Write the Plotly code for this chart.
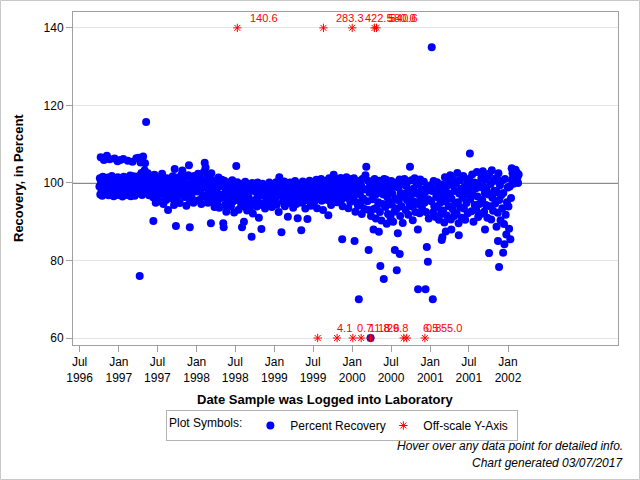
import plotly.graph_objects as go

# ---------------- data ----------------
# Percent recovery, one list of "MM-DD" log dates and one list of values per year
days_1996 = ["10-02","10-04","10-06","10-09","10-12","10-15","10-18","10-21","10-24","10-27","10-30","10-08","10-23",
             "11-02","11-05","11-08","11-11","11-14","11-17","11-20","11-23","11-26","11-29","11-06","11-19",
             "12-02","12-05","12-08","12-11","12-14","12-17","12-20","12-23","12-27","12-30","12-12","12-26"]
rec_1996 = [99.1,101.2,97.0,100.3,98.2,96.7,101.6,99.6,97.6,100.8,98.5,106.6,105.9,
            97.3,100.1,98.9,101.4,96.8,99.4,100.9,97.9,99.9,101.8,107.0,106.1,
            98.0,100.6,96.6,99.2,101.1,97.4,100.0,98.6,101.5,96.9,106.3,105.6]

days_1997 = ["01-03","01-06","01-09","01-12","01-15","01-18","01-21","01-24","01-27","01-30","01-08","01-22",
             "02-02","02-05","02-08","02-11","02-14","02-17","02-20","02-23","02-26","02-12",
             "03-02","03-05","03-08","03-11","03-14","03-17","03-20","03-23","03-26","03-29","03-06","03-24",
             "04-02","04-05","04-08","04-11","04-14","04-17","04-20","04-23","04-26","04-29","04-04","04-13","04-25","04-09",
             "05-02","05-05","05-08","05-11","05-14","05-17","05-20","05-23","05-26","05-29","05-09","05-04",
             "06-02","06-05","06-08","06-11","06-14","06-17","06-20","06-23","06-26","06-29","06-12",
             "07-02","07-05","07-08","07-11","07-14","07-17","07-20","07-23","07-26","07-29",
             "08-02","08-05","08-08","08-11","08-14","08-17","08-20","08-23","08-26","08-29",
             "09-02","09-05","09-08","09-11","09-14","09-17","09-20","09-23","09-26","09-28","09-30",
             "10-02","10-05","10-08","10-11","10-14","10-17","10-20","10-23","10-26","10-29",
             "11-02","11-05","11-08","11-11","11-14","11-17","11-20","11-23","11-26","11-29","11-30",
             "12-02","12-05","12-08","12-11","12-14","12-17","12-20","12-23","12-26","12-29"]
rec_1997 = [99.7,97.2,101.0,98.4,100.4,96.5,99.0,101.6,97.8,100.2,105.9,106.2,
            98.6,101.3,96.9,99.9,97.6,100.7,98.1,101.9,96.6,105.7,
            100.5,97.1,99.3,101.7,98.0,96.7,100.1,98.8,101.1,97.5,105.5,106.4,
            99.6,101.8,97.4,100.6,98.3,102.6,96.9,99.8,101.2,98.7,106.5,105.3,106.8,76.0,
            103.3,100.3,98.6,101.9,97.4,102.5,99.2,96.8,100.9,98.0,115.7,105.1,
            101.3,98.1,100.1,96.3,99.2,102.1,97.5,94.9,100.6,98.8,90.2,
            99.5,96.8,101.4,98.4,95.3,100.3,97.7,102.4,99.0,94.6,
            97.1,100.6,98.2,95.6,101.2,99.3,93.0,97.9,100.1,96.2,
            100.9,98.6,96.0,101.7,99.5,94.3,103.6,97.3,88.9,100.2,95.6,
            98.9,101.4,96.9,99.8,94.8,100.6,97.6,102.2,103.2,98.3,
            100.1,96.4,101.6,98.7,94.1,99.6,97.2,102.0,104.6,95.7,88.6,
            99.0,101.2,96.7,100.2,97.9,94.9,101.8,98.6,95.4,100.7]

days_1998 = ["01-02","01-05","01-08","01-11","01-14","01-17","01-20","01-23","01-26","01-29",
             "02-02","02-05","02-08","02-10","02-12","02-14","02-17","02-20","02-23","02-26",
             "03-02","03-05","03-08","03-09","03-11","03-14","03-17","03-20","03-23","03-26","03-29",
             "04-02","04-05","04-08","04-11","04-14","04-17","04-20","04-23","04-26","04-29",
             "05-02","05-05","05-06","05-08","05-11","05-14","05-17","05-20","05-23","05-26","05-29",
             "06-02","06-05","06-08","06-11","06-14","06-17","06-20","06-23","06-26","06-29",
             "07-02","07-06","07-08","07-11","07-14","07-17","07-20","07-23","07-26","07-29",
             "08-02","08-03","08-06","08-09","08-11","08-14","08-17","08-20","08-23","08-26","08-29",
             "09-02","09-05","09-08","09-11","09-14","09-16","09-19","09-22","09-25","09-28",
             "10-02","10-05","10-08","10-11","10-14","10-17","10-20","10-23","10-26","10-29",
             "11-01","11-03","11-06","11-09","11-12","11-15","11-18","11-21","11-24","11-27",
             "12-02","12-05","12-08","12-11","12-14","12-17","12-20","12-23","12-26","12-29"]
rec_1998 = [100.6,97.8,102.4,99.3,95.6,101.3,98.1,94.6,100.0,96.8,
            98.9,102.9,105.2,100.5,104.0,96.3,99.6,101.8,94.9,98.0,
            101.1,97.2,99.9,89.6,102.5,95.3,98.5,100.7,96.5,93.8,99.1,
            97.8,100.3,95.0,98.9,101.4,93.6,97.0,99.7,96.1,100.8,
            99.2,96.3,89.6,88.6,100.6,94.3,97.8,92.6,99.9,95.7,98.4,
            100.1,96.8,98.9,93.9,97.5,100.7,95.2,99.0,92.4,97.1,
            98.3,104.4,95.6,100.2,97.0,93.1,99.4,96.0,98.7,94.3,
            88.6,99.8,96.7,94.0,90.0,98.2,100.3,95.3,97.5,92.9,99.0,
            96.3,99.6,93.5,97.9,95.1,86.1,100.0,92.1,98.4,94.8,
            99.2,95.7,97.6,93.9,100.1,96.4,91.0,98.7,94.7,97.0,
            88.1,97.2,99.8,94.2,96.7,98.9,93.4,97.9,95.4,99.3,
            95.8,98.4,100.1,94.6,97.1,99.0,93.8,96.5,98.0,95.0]

days_1999 = ["01-03","01-06","01-09","01-12","01-15","01-18","01-21","01-24","01-27","01-30",
             "02-03","02-04","02-07","02-10","02-13","02-16","02-19","02-22","02-25","02-28",
             "03-03","03-05","03-06","03-09","03-12","03-15","03-18","03-21","03-24","03-27","03-30",
             "04-02","04-05","04-08","04-11","04-14","04-17","04-20","04-23","04-26","04-29",
             "05-02","05-05","05-07","05-08","05-11","05-14","05-17","05-20","05-23","05-26","05-29",
             "06-02","06-05","06-06","06-09","06-12","06-15","06-18","06-21","06-24","06-27","06-30",
             "07-02","07-05","07-08","07-11","07-14","07-17","07-20","07-23","07-26","07-29",
             "08-02","08-05","08-08","08-11","08-14","08-17","08-20","08-23","08-26","08-29",
             "09-02","09-05","09-08","09-11","09-12","09-15","09-18","09-21","09-24","09-27","09-30",
             "10-03","10-06","10-09","10-12","10-15","10-18","10-21","10-24","10-27","10-30",
             "11-02","11-05","11-08","11-11","11-14","11-15","11-17","11-20","11-23","11-26","11-29",
             "12-02","12-05","12-08","12-11","12-14","12-17","12-20","12-23","12-26","12-29"]
rec_1999 = [98.6,96.0,100.2,94.4,97.5,99.4,92.5,101.5,96.9,98.9,
            87.3,97.0,99.8,95.3,98.3,100.4,94.0,97.7,99.1,96.2,
            99.5,91.3,96.6,98.8,94.8,100.1,97.3,95.6,99.2,97.9,93.6,
            98.4,95.9,100.5,97.1,94.6,99.3,90.9,96.5,98.9,95.2,
            99.7,96.8,87.8,98.2,94.9,100.4,97.5,95.7,99.0,93.4,98.1,
            97.2,90.7,99.9,95.5,98.5,100.6,96.2,94.1,98.0,99.4,96.9,
            100.2,97.6,95.2,99.1,96.4,100.8,93.5,98.4,97.0,99.6,
            96.8,99.5,101.0,95.4,98.0,93.0,100.3,97.3,99.1,95.9,
            100.6,97.8,95.6,91.7,99.3,101.2,96.5,98.6,94.3,100.0,97.3,
            98.5,102.1,96.0,100.4,97.6,99.4,95.0,101.0,98.0,96.6,
            100.0,97.1,101.3,95.7,98.9,85.5,94.0,99.7,96.5,100.8,97.8,
            98.5,101.5,96.2,99.6,93.5,100.5,97.4,95.1,99.0,101.0]

days_2000 = ["01-03","01-06","01-09","01-12","01-13","01-16","01-19","01-22","01-25","01-28",
             "02-01","02-03","02-06","02-09","02-12","02-15","02-18","02-21","02-24","02-27",
             "03-03","03-07","03-09","03-12","03-15","03-18","03-19","03-22","03-25","03-27","03-29",
             "04-02","04-05","04-08","04-10","04-12","04-15","04-18","04-21","04-24","04-27","04-30",
             "05-02","05-05","05-07","05-10","05-12","05-14","05-17","05-20","05-23","05-26","05-28","05-30",
             "06-02","06-05","06-08","06-11","06-14","06-17","06-20","06-23","06-26","06-29",
             "07-02","07-05","07-08","07-11","07-14","07-17","07-19","07-22","07-25","07-28","07-29",
             "08-02","08-04","08-07","08-10","08-11","08-13","08-16","08-19","08-22","08-25","08-28",
             "09-02","09-05","09-08","09-11","09-14","09-17","09-20","09-23","09-26","09-28",
             "10-02","10-05","10-08","10-11","10-14","10-17","10-20","10-23","10-26","10-29",
             "11-02","11-04","11-05","11-06","11-09","11-12","11-15","11-18","11-21","11-24","11-27",
             "12-02","12-05","12-08","12-10","12-12","12-16","12-18","12-21","12-22","12-25","12-28"]
rec_2000 = [99.4,96.3,101.2,85.0,97.9,92.6,100.1,95.0,98.6,94.1,
            70.0,100.5,97.0,94.5,99.2,92.0,101.0,96.0,98.3,93.3,
            102.0,104.2,98.4,95.3,100.6,82.7,93.0,97.5,99.6,60.0,91.5,
            100.0,95.8,98.0,88.0,93.3,101.0,96.9,90.8,93.6,99.1,97.4,
            95.0,87.4,100.6,92.5,78.6,97.6,90.3,99.2,94.6,97.0,75.2,101.0,
            98.5,93.8,100.8,89.5,96.3,92.0,99.4,95.2,97.8,91.0,
            100.5,94.4,97.2,90.0,99.0,92.6,82.7,96.0,100.1,77.5,93.4,
            87.0,98.8,95.5,100.9,81.7,91.5,97.4,94.0,99.6,89.7,96.6,
            101.0,97.3,93.0,99.2,95.6,100.4,91.8,97.9,94.5,104.2,
            96.8,100.7,93.9,90.4,98.5,95.2,101.2,92.5,97.4,99.6,
            94.6,88.0,72.6,99.8,97.0,92.2,100.9,95.6,98.3,93.4,96.8,
            100.3,94.9,97.6,72.6,92.5,83.5,99.2,79.7,95.8,90.8,98.2]

days_2001 = ["01-03","01-06","01-08","01-10","01-13","01-14","01-17","01-20","01-23","01-26","01-29",
             "02-02","02-05","02-08","02-11","02-14","02-17","02-20","02-23","02-24","02-26","02-27",
             "03-02","03-05","03-08","03-11","03-14","03-15","03-17","03-20","03-23","03-26","03-29",
             "04-02","04-05","04-08","04-10","04-11","04-14","04-17","04-20","04-23","04-26","04-29",
             "05-02","05-05","05-08","05-11","05-14","05-15","05-17","05-20","05-23","05-26","05-29",
             "06-02","06-05","06-08","06-11","06-14","06-17","06-20","06-23","06-26","06-29",
             "07-02","07-06","07-08","07-11","07-14","07-17","07-20","07-23","07-26","07-29",
             "08-02","08-05","08-08","08-11","08-14","08-17","08-20","08-23","08-26","08-29",
             "09-02","09-05","09-08","09-11","09-14","09-15","09-17","09-20","09-23","09-26","09-29",
             "10-02","10-04","10-05","10-08","10-11","10-14","10-17","10-20","10-23","10-26","10-29",
             "11-02","11-05","11-08","11-11","11-14","11-15","11-17","11-20","11-21","11-24","11-27","11-30",
             "12-02","12-05","12-09","12-10","12-13","12-15","12-18","12-21","12-24","12-27","12-30"]
rec_2001 = [99.4,95.3,135.0,97.9,70.0,92.4,100.5,94.0,98.3,91.2,96.4,
            100.2,93.7,97.4,90.5,98.8,94.9,92.0,99.6,85.3,96.1,86.0,
            92.9,98.0,89.8,101.5,95.2,87.5,99.0,91.6,96.8,100.4,94.0,
            97.3,102.0,90.6,88.0,95.9,99.5,93.2,100.8,91.5,97.9,94.7,
            99.8,92.1,102.6,95.0,89.6,86.5,97.3,100.7,93.7,98.5,91.0,
            96.2,101.8,93.4,99.0,90.5,97.0,94.8,100.3,92.2,98.2,
            101.0,107.6,95.8,99.3,92.7,102.2,96.9,90.0,100.1,94.3,
            98.6,93.0,102.8,96.5,91.2,100.0,94.6,98.9,92.0,101.3,
            95.7,103.0,99.0,92.6,97.4,88.0,100.9,94.3,98.1,91.0,101.7,
            97.0,81.9,102.4,94.0,99.7,90.6,103.3,96.2,92.8,100.5,98.0,
            94.7,101.2,88.7,97.6,92.3,85.0,102.5,78.3,95.6,99.4,90.4,96.8,
            100.6,93.5,82.0,97.4,89.4,84.2,101.0,91.8,86.7,95.0,98.8]

days_2002 = ["01-03","01-06","01-09","01-12","01-15","01-18","01-20","01-22","01-24","01-26","01-28","01-30",
             "02-02","02-05","02-08","02-11","02-14","02-17","02-20"]
rec_2002 = [93.9,88.2,99.1,85.5,96.1,103.8,100.6,102.5,101.2,99.8,103.1,100.2,
            101.9,103.4,100.5,102.7,101.4,100.0,102.2]

# off-scale results (true values shown as labels)
offscale_dates = ["1998-07-11", "1999-08-19", "2000-01-01", "2000-04-15", "2000-04-24",
                  "1999-07-23", "1999-10-22", "2000-01-04", "2000-02-12", "2000-03-27",
                  "2000-08-30", "2000-09-13", "2000-12-07"]
offscale_values = [140.6, 283.3, 422.5, 580.0, 540.6,
                   4.1, 0.7, 11.8, 18.6, 29.8,
                   6.5, 0.8, 55.0]

y_min, y_max = 60, 140
y_ticks = [60, 80, 100, 120, 140]
x_ticks = ["1996-07-01", "1997-01-01", "1997-07-01", "1998-01-01", "1998-07-01", "1999-01-01",
           "1999-07-01", "2000-01-01", "2000-07-01", "2001-01-01", "2001-07-01", "2002-01-01"]
target = 100

# ---------------- build ----------------
years = [(1996, days_1996, rec_1996), (1997, days_1997, rec_1997), (1998, days_1998, rec_1998),
         (1999, days_1999, rec_1999), (2000, days_2000, rec_2000), (2001, days_2001, rec_2001),
         (2002, days_2002, rec_2002)]
x_all, y_all = [], []
for yr, d, v in years:
    assert len(d) == len(v), (yr, len(d), len(v))
    x_all += [f"{yr}-{s}" for s in d]
    y_all += v

off_y = [min(max(v, y_min), y_max) for v in offscale_values]

FONT = "Liberation Sans, Arial, sans-serif"
fig = go.Figure()
fig.add_trace(go.Scatter(
    x=x_all, y=y_all, mode="markers", name="Percent Recovery",
    marker=dict(symbol="circle", size=8, color="#0000FF", line=dict(width=0)),
    hovertemplate="%{x|%d%b%Y}<br>Recovery: %{y:.1f}%<extra></extra>"))
fig.add_trace(go.Scatter(
    x=offscale_dates, y=off_y, mode="markers", name="Off-scale Y-Axis",
    marker=dict(symbol="asterisk-open", size=7, color="#FF0000",
                line=dict(color="#FF0000", width=1)),
    customdata=offscale_values,
    hovertemplate="%{x|%d%b%Y}<br>Recovery: %{customdata:.1f}%<extra></extra>"))

for d, v, yv in zip(offscale_dates, offscale_values, off_y):
    fig.add_annotation(x=d, y=yv, text=f"{v:.1f}", showarrow=False,
                       xshift=27, yshift=10, font=dict(family=FONT, size=11, color="#FF0000"))

# plot-area geometry (pixels)
L, R, T, B = 73, 22, 12, 135
W, H = 640, 480
pw, ph = W - L - R, H - T - B
def px(xp):
    return (xp - L) / pw
def py(yp):
    return (H - B - yp) / ph

fig.add_shape(type="line", xref="paper", x0=0, x1=1, yref="y", y0=target, y1=target,
              line=dict(color="black", width=1), layer="below")
fig.add_shape(type="rect", xref="paper", yref="paper",
              x0=px(0.5), x1=px(W - 0.5), y0=py(H - 0.5), y1=py(0.5),
              line=dict(color="#c8c8c8", width=1), fillcolor="rgba(0,0,0,0)", layer="below")

fig.add_annotation(text="<b>Recovery, in Percent</b>", xref="paper", yref="paper",
                   x=px(18), y=py(178), textangle=-90, showarrow=False,
                   xanchor="center", yanchor="middle", font=dict(family=FONT, size=13))
fig.add_annotation(text="<b>Date Sample was Logged into Laboratory</b>", xref="paper", yref="paper",
                   x=px(325), y=py(399), showarrow=False, xanchor="center", yanchor="middle",
                   font=dict(family=FONT, size=13))
fig.add_annotation(text="<i>Hover over any data point for detailed info.</i>", xref="paper", yref="paper",
                   x=px(625), y=py(446), showarrow=False, xanchor="right", yanchor="middle",
                   font=dict(family=FONT, size=12))
fig.add_annotation(text="<i>Chart generated 03/07/2017</i>", xref="paper", yref="paper",
                   x=px(625), y=py(463), showarrow=False, xanchor="right", yanchor="middle",
                   font=dict(family=FONT, size=12))

fig.update_layout(
    width=W, height=H, margin=dict(l=L, r=R, t=T, b=B, pad=0, autoexpand=False),
    plot_bgcolor="white", paper_bgcolor="white",
    font=dict(family=FONT, size=12, color="black"),
    showlegend=True,
    legend=dict(orientation="h", x=px(342), xanchor="center", y=py(410), yanchor="top",
                bordercolor="#b4b4b4", borderwidth=1, bgcolor="white",
                title=dict(text="Plot Symbols:", side="left", font=dict(family=FONT, size=12)),
                font=dict(family=FONT, size=12), itemsizing="trace",
                entrywidth=88, entrywidthmode="pixels"),
    xaxis=dict(type="date", range=["1996-05-31", "2003-06-01"], tickvals=x_ticks,
               tickformat="%b<br>%Y", ticks="outside", ticklen=6, tickcolor="#a0a0a0",
               showline=True, linecolor="#a0a0a0", mirror=True, showgrid=False, zeroline=False,
               automargin=False, tickfont=dict(family=FONT, size=12)),
    yaxis=dict(range=[58.2, 144.1], tickvals=y_ticks, ticks="outside", ticklen=6, tickcolor="#a0a0a0",
               showline=True, linecolor="#a0a0a0", mirror=True, showgrid=True, gridcolor="#e4e4e4",
               zeroline=False, automargin=False, tickfont=dict(family=FONT, size=12)),
)

fig.write_html("out.html", config={"displayModeBar": False},
               post_script="document.body.style.margin='0px';document.body.style.padding='0px';")
